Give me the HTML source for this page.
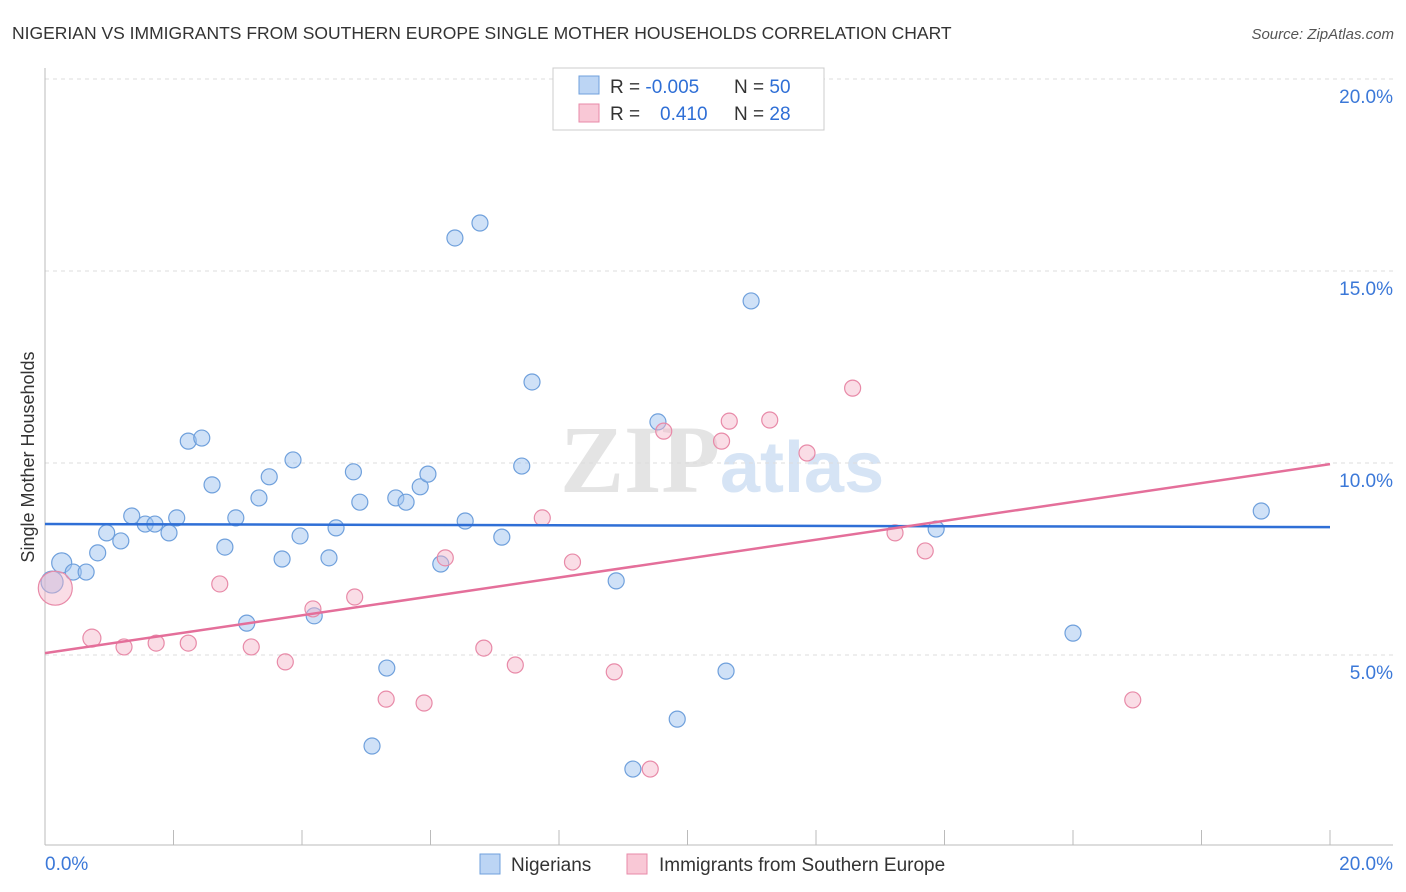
<!DOCTYPE html>
<html><head><meta charset="utf-8">
<style>
body{margin:0;background:#fff;font-family:"Liberation Sans",sans-serif;}
#wrap{position:relative;width:1406px;height:892px;overflow:hidden;}
</style></head>
<body><div id="wrap">
<svg id="svg" width="1406" height="892" xmlns="http://www.w3.org/2000/svg">
<text x="12" y="39" font-size="17.5" fill="#333">NIGERIAN VS IMMIGRANTS FROM SOUTHERN EUROPE SINGLE MOTHER HOUSEHOLDS CORRELATION CHART</text>
<text x="1394" y="39" font-size="15" fill="#555" font-style="italic" text-anchor="end">Source: ZipAtlas.com</text>
<text x="720" y="492" font-size="96" fill="#e4e4e4" text-anchor="end" font-family="Liberation Serif,serif" font-weight="bold">ZIP</text>
<text x="720" y="492" font-size="72" fill="#d6e4f5" font-weight="bold">atlas</text>
<g id="grid"></g><g id="axes"></g><g id="pts"></g><g id="lines"></g>
<text transform="translate(34,457) rotate(-90)" font-size="18" fill="#333" text-anchor="middle">Single Mother Households</text>
<g>
<rect x="553" y="68" width="271" height="62" fill="#fff" stroke="#ccc"/>
<rect x="579" y="76" width="20" height="18" fill="#bcd5f4" stroke="#6fa0dc"/>
<rect x="579" y="104" width="20" height="18" fill="#f9c8d6" stroke="#e88aa8"/>
<text x="610" y="93" font-size="19" fill="#333">R = <tspan fill="#2f6fd6">-0.005</tspan><tspan x="734">N = </tspan><tspan fill="#2f6fd6">50</tspan></text>
<text x="610" y="120" font-size="19" fill="#333">R = <tspan x="660" fill="#2f6fd6">0.410</tspan><tspan x="734">N = </tspan><tspan fill="#2f6fd6">28</tspan></text>
</g>
<g>
<rect x="480" y="854" width="20" height="20" fill="#bcd5f4" stroke="#6fa0dc"/>
<text x="511" y="871" font-size="19" fill="#333">Nigerians</text>
<rect x="627" y="854" width="20" height="20" fill="#f9c8d6" stroke="#e88aa8"/>
<text x="659" y="871" font-size="19" fill="#333">Immigrants from Southern Europe</text>
</g>
</svg>
<script>
const yTicks=[5,10,15,20];
const yTickLabels=["5.0%","10.0%","15.0%","20.0%"];
const xTickLabels=["0.0%","20.0%"];
const nigX=[0.26,0.11,0.44,0.64,0.82,0.96,1.18,1.35,1.56,1.71,1.93,2.05,2.23,2.44,2.60,2.80,2.97,3.14,3.33,3.49,3.69,3.86,3.97,4.19,4.42,4.53,4.80,4.90,5.09,5.32,5.46,5.62,5.84,5.96,6.16,6.38,6.54,6.77,7.11,7.42,7.58,8.89,9.15,9.54,9.84,10.60,10.99,13.87,16.00,18.93];
const nigY=[7.40,6.90,7.16,7.16,7.66,8.18,7.97,8.62,8.41,8.41,8.18,8.57,10.57,10.65,9.43,7.81,8.57,5.83,9.09,9.64,7.50,10.08,8.10,6.02,7.53,8.31,9.77,8.98,2.63,4.66,9.09,8.98,9.38,9.71,7.37,15.86,8.49,16.25,8.07,9.92,12.11,6.93,2.03,11.07,3.33,4.58,14.22,8.28,5.57,8.75];
const nigR=[10,11,8,8,8,8,8,8,8,8,8,8,8,8,8,8,8,8,8,8,8,8,8,8,8,8,8,8,8,8,8,8,8,8,8,8,8,8,8,8,8,8,8,8,8,8,8,8,8,8];
const seX=[0.16,0.73,1.23,1.73,2.23,2.72,3.21,3.74,4.17,4.82,5.31,5.90,6.23,6.83,7.32,7.74,8.21,8.86,9.42,9.63,10.53,10.65,11.28,11.86,12.57,13.23,13.70,16.93];
const seY=[6.74,5.44,5.21,5.31,5.31,6.85,5.21,4.82,6.20,6.51,3.85,3.75,7.53,5.18,4.74,8.57,7.42,4.56,2.03,10.83,10.57,11.09,11.12,10.26,11.95,8.18,7.71,3.83];
const seR=[17,9,8,8,8,8,8,8,8,8,8,8,8,8,8,8,8,8,8,8,8,8,8,8,8,8,8,8];
const nigTrend=[8.41,8.33];
const seTrend=[5.05,9.97];
const NS="http://www.w3.org/2000/svg";
const X=v=>45+v/20*1285, Y=v=>847-v*38.4;
function mk(t,a,p){const e=document.createElementNS(NS,t);for(const k in a)e.setAttribute(k,a[k]);document.getElementById(p).appendChild(e);return e;}
yTicks.forEach((t,i)=>{
 const l=mk('line',{x1:45,x2:1393,y1:Y(t),y2:Y(t),stroke:'#ddd','stroke-dasharray':'4,4'},'grid');
 
 
 const tx=mk('text',{x:1393,y:Y(t)+24,'font-size':19,fill:'#3b78d8','text-anchor':'end'},'axes');
 tx.textContent=yTickLabels[i];
 
 
});
const ax=mk('line',{x1:45,x2:1393,y1:845,y2:845,stroke:'#bbb'},'axes');


const ay=mk('line',{x1:45,x2:45,y1:68,y2:845,stroke:'#bbb'},'axes');


for(let i=0;i<=10;i++){
 const t=mk('line',{x1:X(i*2),x2:X(i*2),y1:830,y2:845,stroke:'#bbb'},'axes');
 
 
}
[[0,'start',45],[20,'end',1393]].forEach((d,i)=>{
 const t=mk('text',{x:d[2],y:870,'font-size':19,fill:'#3b78d8','text-anchor':d[1]},'axes');
 t.textContent=xTickLabels[i];
 
 
});
nigX.forEach((v,i)=>{
 const c=mk('circle',{cx:X(v),cy:Y(nigY[i]),r:nigR[i],fill:'rgba(160,196,240,0.5)',stroke:'#6fa0dc','stroke-width':1.2},'pts');
 
 
});
seX.forEach((v,i)=>{
 const c=mk('circle',{cx:X(v),cy:Y(seY[i]),r:seR[i],fill:'rgba(245,180,200,0.45)',stroke:'#e88aa8','stroke-width':1.2},'pts');
 
 
});
const l1=mk('line',{x1:X(0),x2:X(20),y1:Y(nigTrend[0]),y2:Y(nigTrend[1]),stroke:'#2f6fd6','stroke-width':2.5},'lines');


const l2=mk('line',{x1:X(0),x2:X(20),y1:Y(seTrend[0]),y2:Y(seTrend[1]),stroke:'#e46f9a','stroke-width':2.5},'lines');


</script>
</div></body></html>
